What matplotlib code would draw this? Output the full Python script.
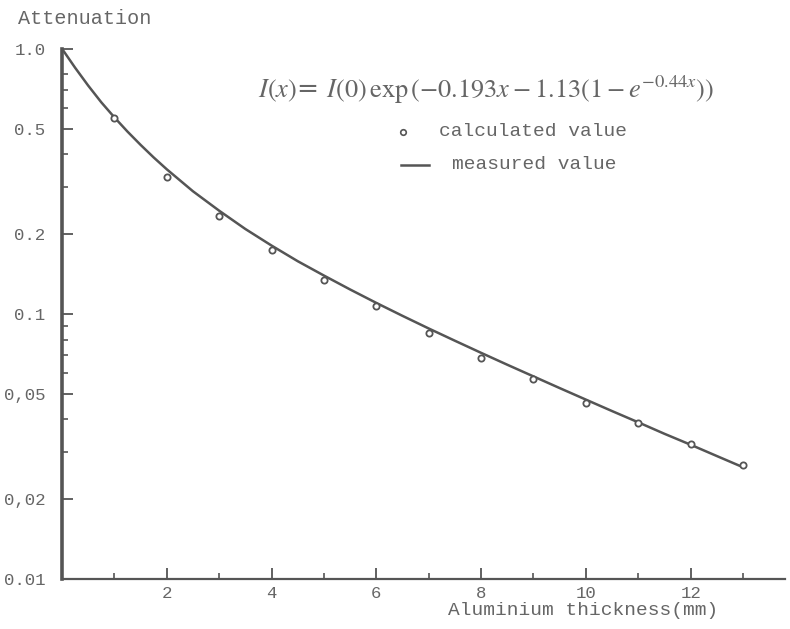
import matplotlib
matplotlib.use("Agg")
import matplotlib.pyplot as plt
from matplotlib.ticker import FixedLocator, NullFormatter

# measured curve
x_meas = [0, 0.25, 0.5, 0.75, 1, 1.25, 1.5, 1.75, 2, 2.5, 3, 3.5, 4, 4.5,
          5, 5.5, 6, 6.5, 7, 7.5, 8, 8.5, 9, 9.5, 10, 10.5, 11, 11.5, 12,
          12.5, 13]
y_meas = [1.0, 0.848, 0.726, 0.628, 0.551, 0.487, 0.434, 0.389, 0.351,
          0.290, 0.245, 0.209, 0.181, 0.158, 0.1395, 0.1236, 0.110, 0.0983,
          0.0881, 0.0792, 0.0713, 0.0643, 0.0581, 0.0525, 0.0475, 0.0430,
          0.0390, 0.0353, 0.0321, 0.0291, 0.0264]

# calculated points
x_calc = [1, 2, 3, 4, 5, 6, 7, 8, 9, 10, 11, 12, 13]
y_calc = [0.549, 0.327, 0.234, 0.174, 0.134, 0.107, 0.0848, 0.0682,
          0.0569, 0.0462, 0.0388, 0.0323, 0.0269]

y_ticks = [1.0, 0.5, 0.2, 0.1, 0.05, 0.02, 0.01]
y_labels = ["1.0", "0.5", "0.2", "0.1", "0,05", "0,02", "0.01"]
y_minor = [0.8, 0.7, 0.6, 0.4, 0.3, 0.09, 0.08, 0.07, 0.06, 0.04, 0.03]
x_ticks = [2, 4, 6, 8, 10, 12]
x_minor = [1, 3, 5, 7, 9, 11, 13]

ink = "#555555"
txt = "#666666"
mono = "Liberation Mono"

fig = plt.figure(figsize=(7.9, 6.29), dpi=100)
ax = fig.add_axes([0.0785, 0.0795, 0.915, 0.843])

ax.plot(x_meas, y_meas, color=ink, lw=1.8)
ax.plot(x_calc, y_calc, "o", ms=4.5, mfc="white", mec=ink, mew=1.3)

ax.set_yscale("log")
ax.set_ylim(0.01, 1.0)
ax.set_xlim(0, 13.8)

ax.yaxis.set_major_locator(FixedLocator(y_ticks))
ax.set_yticklabels(y_labels)
ax.yaxis.set_minor_locator(FixedLocator(y_minor))
ax.yaxis.set_minor_formatter(NullFormatter())
ax.set_xticks(x_ticks)
ax.xaxis.set_minor_locator(FixedLocator(x_minor))

for s in ["top", "right"]:
    ax.spines[s].set_visible(False)
ax.spines["left"].set_linewidth(2.6)
ax.spines["bottom"].set_linewidth(1.6)
ax.spines["left"].set_color(ink)
ax.spines["bottom"].set_color(ink)

ax.tick_params(which="major", direction="in", length=8, width=1.3,
               color=ink, labelcolor=txt, labelsize=12.5)
ax.tick_params(axis="y", which="major", pad=12)
ax.tick_params(axis="x", which="major", pad=5)
ax.tick_params(which="minor", direction="in", length=4, width=1.2, color=ink)
for lab in ax.get_xticklabels() + ax.get_yticklabels():
    lab.set_family(mono)

fig.text(0.023, 0.971, "Attenuation", family=mono, fontsize=14.5,
         color=txt, va="center")
fig.text(0.567, 0.030, "Aluminium thickness(mm)", family=mono, fontsize=14,
         color=txt, va="center")

ax.text(0.271, 0.923, r"$I(x)$= $I(0)\,\mathrm{exp}\,(-0.193x - 1.13(1 - e^{-0.44x}))$",
        transform=ax.transAxes, fontsize=19, color=txt, va="center",
        math_fontfamily="stix")

# legend drawn by hand like the original
ax.plot([0.472], [0.843], "o", ms=4, mfc="white", mec=ink, mew=1.2,
        transform=ax.transAxes)
ax.text(0.521, 0.843, "calculated value", transform=ax.transAxes,
        family=mono, fontsize=14, color=txt, va="center")
ax.plot([0.469, 0.508], [0.781, 0.781], color=ink, lw=1.8,
        transform=ax.transAxes)
ax.text(0.539, 0.781, "measured value", transform=ax.transAxes,
        family=mono, fontsize=14, color=txt, va="center")

fig.savefig("out.png", dpi=100)
